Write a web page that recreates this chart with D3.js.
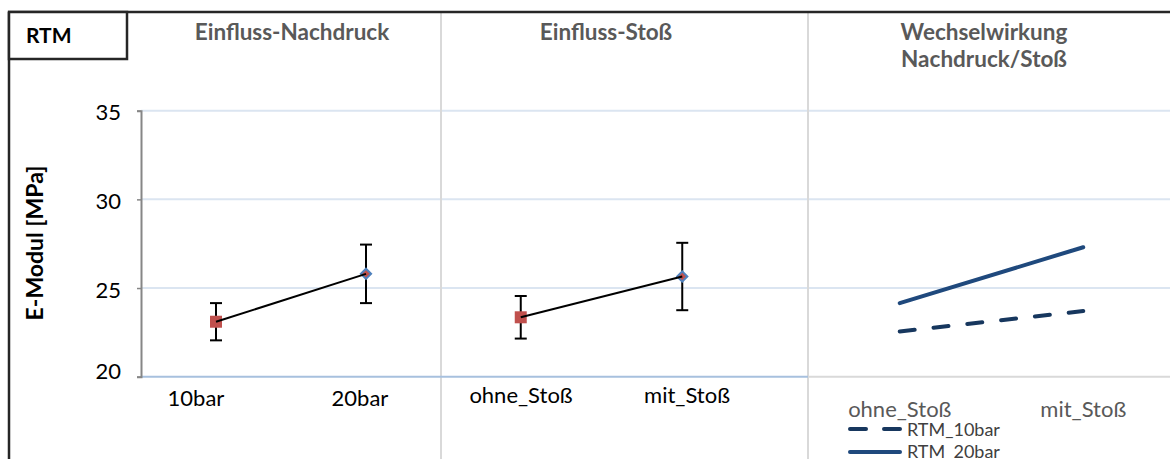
<!DOCTYPE html>
<html><head><meta charset="utf-8">
<script src="https://cdn.jsdelivr.net/npm/d3@7"></script>
<style>
html,body{margin:0;padding:0;background:#fff;}
svg{display:block;font-family:Lato,"Open Sans",sans-serif;}
</style></head>
<body>
<script>
// ---- data ----
const panelTitles = ["Einfluss-Nachdruck", "Einfluss-Stoß", ["Wechselwirkung", "Nachdruck/Stoß"]];
const catsDruck = ["10bar", "20bar"];
const meanDruck = [23.1, 25.8];
const errDruck = [1.05, 1.65];
const catsStoss = ["ohne_Stoß", "mit_Stoß"];
const meanStoss = [23.35, 25.65];
const errStoss = [1.2, 1.9];
const seriesNames = ["RTM_10bar", "RTM_20bar"];
const inter10 = [22.55, 23.7];
const inter20 = [24.15, 27.3];
const yTicks = [20, 25, 30, 35];
const yLabel = "E-Modul [MPa]";
const boxLabel = "RTM";

const W = 1170, H = 459;
const svg = d3.select("body").append("svg").attr("width", W).attr("height", H);

const y = d3.scaleLinear().domain([20, 35]).range([376.7, 110.7]);
const x1 = d3.scalePoint().domain(catsDruck).range([141, 441]).padding(0.5);
const x2 = d3.scalePoint().domain(catsStoss).range([440, 763]).padding(0.5);
const x3 = d3.scalePoint().domain(catsStoss).range([808, 1175]).padding(0.5);
// category label positions (offset from markers as in the original)
const xl1 = d3.scalePoint().domain(catsDruck).range([114, 442]).padding(0.5);
const xl2 = d3.scalePoint().domain(catsStoss).range([438, 770]).padding(0.5);

// gridlines
svg.append("g").selectAll("line").data(yTicks.filter(t => t > 20)).join("line")
  .attr("x1", 141).attr("x2", W).attr("y1", d => y(d)).attr("y2", d => y(d))
  .attr("stroke", "#dbe5f1").attr("stroke-width", 2);

// vertical separators
[441, 808].forEach(xv => {
  svg.append("line").attr("x1", xv).attr("x2", xv).attr("y1", 12).attr("y2", H)
    .attr("stroke", "#d9d9d9").attr("stroke-width", 2);
});

// bottom axis lines
svg.append("line").attr("x1", 141).attr("x2", 808).attr("y1", y(20)).attr("y2", y(20))
  .attr("stroke", "#a7c0de").attr("stroke-width", 2);
svg.append("line").attr("x1", 808).attr("x2", W).attr("y1", y(20)).attr("y2", y(20))
  .attr("stroke", "#d9d9d9").attr("stroke-width", 2);

// y axis
const yAxis = d3.axisLeft(y).tickValues(yTicks).tickSize(4).tickPadding(16);
const gy = svg.append("g").attr("transform", "translate(141,0)").call(yAxis);
gy.select(".domain").attr("stroke", "#868686").attr("stroke-width", 2);
gy.selectAll(".tick line").attr("stroke", "#868686").attr("stroke-width", 1.5);
gy.selectAll(".tick text").attr("font-size", 22).attr("fill", "#000")
  .attr("font-family", "Lato, sans-serif").attr("dy", d => d === 20 ? "0.1em" : "0.42em");

// y label
svg.append("text").attr("transform", "translate(43,243) rotate(-90)")
  .attr("text-anchor", "middle").attr("font-size", 23).attr("font-weight", "bold")
  .attr("fill", "#000").text(yLabel);

// x labels
function xLabels(scale, cats, yPos, color) {
  svg.append("g").selectAll("text").data(cats).join("text")
    .attr("x", d => scale(d)).attr("y", yPos).attr("text-anchor", "middle")
    .attr("font-size", 22).attr("fill", color).text(d => d);
}
xLabels(xl1, catsDruck, 406, "#000");
xLabels(xl2, catsStoss, 403, "#000");
xLabels(x3, catsStoss, 417, "#595959");

// panel titles
const titleSize = 22.5;
svg.append("text").attr("x", 292).attr("y", 40).attr("text-anchor", "middle")
  .attr("font-size", titleSize).attr("font-weight", "bold").attr("fill", "#595959").text(panelTitles[0]);
svg.append("text").attr("x", 606).attr("y", 40).attr("text-anchor", "middle")
  .attr("font-size", titleSize).attr("font-weight", "bold").attr("fill", "#595959").text(panelTitles[1]);
panelTitles[2].forEach((t, i) => {
  svg.append("text").attr("x", 984).attr("y", 40 + i * 27).attr("text-anchor", "middle")
    .attr("font-size", titleSize).attr("font-weight", "bold").attr("fill", "#595959").text(t);
});

// effect panels
function effectPanel(scale, cats, means, errs) {
  const g = svg.append("g");
  const pts = cats.map((c, i) => ({c, m: means[i], e: errs[i], i}));
  pts.forEach(d => {
    const cx = scale(d.c);
    g.append("line").attr("x1", cx).attr("x2", cx).attr("y1", y(d.m + d.e)).attr("y2", y(d.m - d.e))
      .attr("stroke", "#000").attr("stroke-width", 2);
    [d.m + d.e, d.m - d.e].forEach(v => {
      g.append("line").attr("x1", cx - 6).attr("x2", cx + 6).attr("y1", y(v)).attr("y2", y(v))
        .attr("stroke", "#000").attr("stroke-width", 2);
    });
  });
  const p0 = pts[0], p1 = pts[1];
  g.append("rect").attr("x", scale(p0.c) - 6).attr("y", y(p0.m) - 6).attr("width", 12).attr("height", 12)
    .attr("fill", "#c0504d");
  g.append("path").attr("transform", `translate(${scale(p1.c)},${y(p1.m)}) rotate(45)`)
    .attr("d", "M-3.6,-3.6H3.6V3.6H-3.6Z").attr("fill", "#c0504d").attr("stroke", "#4f81bd").attr("stroke-width", 2);
  g.append("path").datum(pts)
    .attr("d", d3.line().x(d => scale(d.c)).y(d => y(d.m)))
    .attr("fill", "none").attr("stroke", "#000").attr("stroke-width", 2);
}
effectPanel(x1, catsDruck, meanDruck, errDruck);
effectPanel(x2, catsStoss, meanStoss, errStoss);

// interaction panel
const lineGen = d3.line().x((d, i) => x3(catsStoss[i])).y(d => y(d));
svg.append("path").datum(inter10).attr("d", lineGen).attr("fill", "none")
  .attr("stroke", "#17375e").attr("stroke-width", 4).attr("stroke-dasharray", "15,19").attr("stroke-linecap", "round");
svg.append("path").datum(inter20).attr("d", lineGen).attr("fill", "none")
  .attr("stroke", "#1f497d").attr("stroke-width", 4).attr("stroke-linecap", "round");

// legend
const legend = svg.append("g");
legend.append("line").attr("x1", 850).attr("x2", 900).attr("y1", 429).attr("y2", 429)
  .attr("stroke", "#17375e").attr("stroke-width", 4).attr("stroke-dasharray", "16,18").attr("stroke-linecap", "round");
legend.append("line").attr("x1", 850).attr("x2", 900).attr("y1", 452).attr("y2", 452)
  .attr("stroke", "#1f497d").attr("stroke-width", 4).attr("stroke-linecap", "round");
seriesNames.forEach((n, i) => {
  legend.append("text").attr("x", 907).attr("y", 436 + i * 22).attr("font-size", 18)
    .attr("fill", "#404040").text(n);
});

// outer border + RTM box
svg.append("line").attr("x1", 8).attr("x2", W).attr("y1", 12).attr("y2", 12)
  .attr("stroke", "#262626").attr("stroke-width", 2.5);
svg.append("line").attr("x1", 9).attr("x2", 9).attr("y1", 12).attr("y2", H)
  .attr("stroke", "#262626").attr("stroke-width", 2.5);
svg.append("rect").attr("x", 9).attr("y", 12).attr("width", 118).attr("height", 47)
  .attr("fill", "#fff").attr("stroke", "#262626").attr("stroke-width", 2.5);
svg.append("text").attr("x", 26).attr("y", 43).attr("font-size", 21).attr("font-weight", "bold")
  .attr("fill", "#000").text(boxLabel);
</script>
</body></html>
